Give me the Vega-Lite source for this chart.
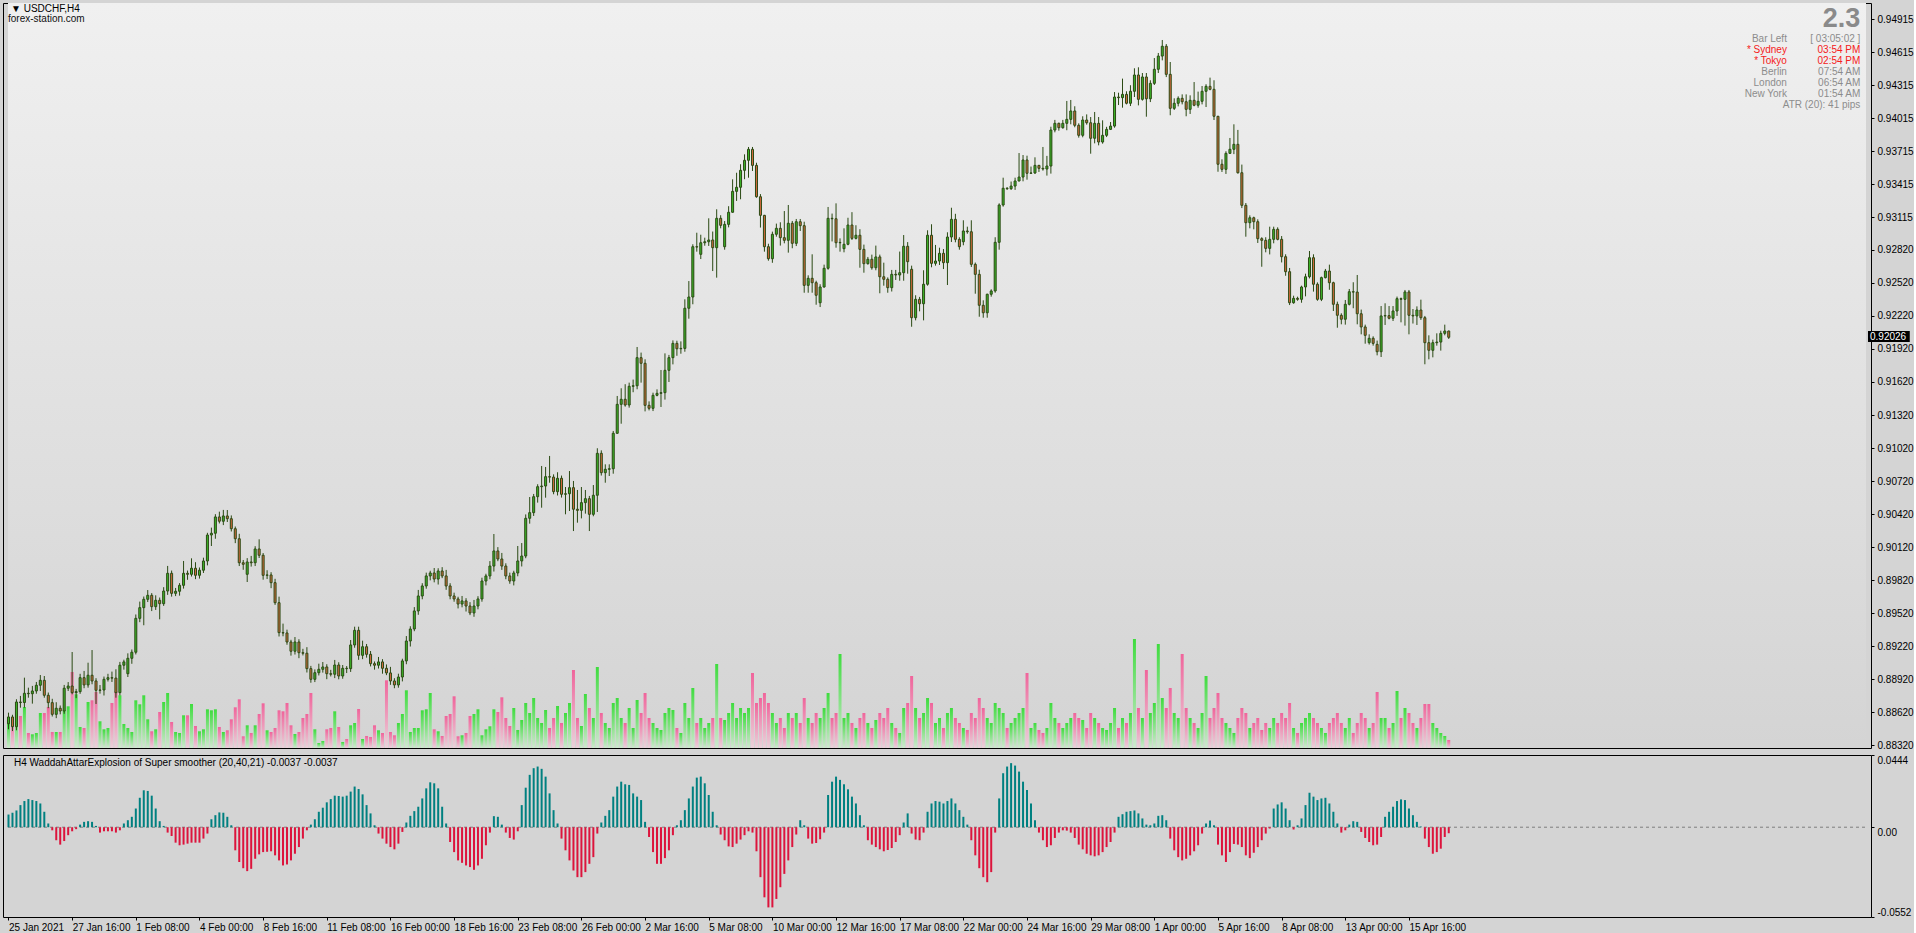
{
"$schema": "https://vega.github.io/schema/vega-lite/v6.json",
"background": "#D4D4D4",
"padding": {"left": 2, "top": 2, "right": 0, "bottom": 0},
"spacing": 3,
"datasets": {"bars": [
{"i":0,"o":0.88516,"h":0.88616,"l":0.88465,"c":0.88577,"v":2500,"w":0.0078},
{"i":1,"o":0.88577,"h":0.88597,"l":0.88449,"c":0.88489,"v":3000,"w":0.0089},
{"i":2,"o":0.88489,"h":0.88738,"l":0.88456,"c":0.88713,"v":3670,"w":0.0103},
{"i":3,"o":0.88713,"h":0.88768,"l":0.88661,"c":0.88708,"v":3200,"w":0.0136},
{"i":4,"o":0.88708,"h":0.88934,"l":0.88661,"c":0.88792,"v":4100,"w":0.0161},
{"i":5,"o":0.88792,"h":0.88843,"l":0.88752,"c":0.88788,"v":1500,"w":0.0173},
{"i":6,"o":0.88788,"h":0.88859,"l":0.88698,"c":0.88813,"v":1370,"w":0.0167},
{"i":7,"o":0.88813,"h":0.88895,"l":0.88788,"c":0.88865,"v":1500,"w":0.0161},
{"i":8,"o":0.88865,"h":0.88958,"l":0.88813,"c":0.8891,"v":3500,"w":0.0146},
{"i":9,"o":0.8891,"h":0.88949,"l":0.88752,"c":0.88774,"v":3500,"w":0.0095},
{"i":10,"o":0.88774,"h":0.88799,"l":0.88657,"c":0.88707,"v":4100,"w":0.0023},
{"i":11,"o":0.88707,"h":0.88742,"l":0.88581,"c":0.88601,"v":1600,"w":-0.0019},
{"i":12,"o":0.88601,"h":0.88711,"l":0.88566,"c":0.88656,"v":1600,"w":-0.008},
{"i":13,"o":0.88656,"h":0.88681,"l":0.88601,"c":0.88631,"v":1600,"w":-0.0107},
{"i":14,"o":0.88631,"h":0.88868,"l":0.88606,"c":0.88838,"v":3770,"w":-0.0085},
{"i":15,"o":0.88838,"h":0.88894,"l":0.88813,"c":0.88858,"v":4170,"w":-0.0049},
{"i":16,"o":0.88858,"h":0.89167,"l":0.88783,"c":0.88798,"v":7600,"w":-0.0025},
{"i":17,"o":0.88798,"h":0.88832,"l":0.88748,"c":0.88807,"v":5370,"w":-0.0012},
{"i":18,"o":0.88807,"h":0.88969,"l":0.88787,"c":0.88934,"v":2100,"w":0.0016},
{"i":19,"o":0.88934,"h":0.88995,"l":0.88838,"c":0.88868,"v":2000,"w":0.0033},
{"i":20,"o":0.88868,"h":0.8907,"l":0.88843,"c":0.88956,"v":4600,"w":0.0037},
{"i":21,"o":0.88956,"h":0.89185,"l":0.88874,"c":0.88904,"v":4770,"w":0.0033},
{"i":22,"o":0.88904,"h":0.88929,"l":0.88695,"c":0.88819,"v":5600,"w":0.0008},
{"i":23,"o":0.88819,"h":0.88867,"l":0.88789,"c":0.88822,"v":2670,"w":-0.0033},
{"i":24,"o":0.88822,"h":0.88944,"l":0.88772,"c":0.88919,"v":1870,"w":-0.0025},
{"i":25,"o":0.88919,"h":0.88969,"l":0.88899,"c":0.88934,"v":2000,"w":-0.0025},
{"i":26,"o":0.88934,"h":0.88989,"l":0.88895,"c":0.8893,"v":4500,"w":-0.0025},
{"i":27,"o":0.8893,"h":0.8901,"l":0.88752,"c":0.88798,"v":5670,"w":-0.0033},
{"i":28,"o":0.88798,"h":0.89077,"l":0.88773,"c":0.89047,"v":5270,"w":-0.0019},
{"i":29,"o":0.89047,"h":0.89097,"l":0.89007,"c":0.89077,"v":2400,"w":0.0023},
{"i":30,"o":0.8897,"h":0.89155,"l":0.8894,"c":0.8911,"v":2000,"w":0.0043},
{"i":31,"o":0.8911,"h":0.8919,"l":0.8906,"c":0.89165,"v":1600,"w":0.0064},
{"i":32,"o":0.89165,"h":0.89508,"l":0.89145,"c":0.89473,"v":4770,"w":0.0115},
{"i":33,"o":0.89473,"h":0.89625,"l":0.89438,"c":0.8957,"v":4370,"w":0.0181},
{"i":34,"o":0.8957,"h":0.89671,"l":0.8941,"c":0.89646,"v":5270,"w":0.0227},
{"i":35,"o":0.89646,"h":0.8973,"l":0.89621,"c":0.89682,"v":2870,"w":0.0223},
{"i":36,"o":0.89682,"h":0.89702,"l":0.89539,"c":0.89579,"v":1670,"w":0.0194},
{"i":37,"o":0.89579,"h":0.89682,"l":0.89549,"c":0.89637,"v":1870,"w":0.0115},
{"i":38,"o":0.89637,"h":0.89662,"l":0.89464,"c":0.89606,"v":3600,"w":0.0037},
{"i":39,"o":0.89606,"h":0.89756,"l":0.89586,"c":0.89721,"v":4600,"w":0.0008},
{"i":40,"o":0.89721,"h":0.89949,"l":0.89686,"c":0.89882,"v":5500,"w":-0.0033},
{"i":41,"o":0.89882,"h":0.89907,"l":0.8967,"c":0.897,"v":2600,"w":-0.0054},
{"i":42,"o":0.897,"h":0.89749,"l":0.89675,"c":0.89719,"v":1600,"w":-0.0095},
{"i":43,"o":0.89719,"h":0.89793,"l":0.89679,"c":0.89773,"v":1500,"w":-0.0111},
{"i":44,"o":0.89773,"h":0.89994,"l":0.89743,"c":0.89882,"v":3270,"w":-0.0107},
{"i":45,"o":0.89882,"h":0.89907,"l":0.89823,"c":0.89873,"v":3270,"w":-0.0101},
{"i":46,"o":0.89873,"h":0.90018,"l":0.89853,"c":0.89928,"v":4400,"w":-0.0095},
{"i":47,"o":0.89928,"h":0.89983,"l":0.89829,"c":0.89864,"v":2200,"w":-0.0095},
{"i":48,"o":0.89864,"h":0.89935,"l":0.89834,"c":0.8991,"v":1670,"w":-0.0095},
{"i":49,"o":0.8991,"h":0.90024,"l":0.89885,"c":0.89994,"v":1870,"w":-0.007},
{"i":50,"o":0.89994,"h":0.9025,"l":0.89954,"c":0.9023,"v":3870,"w":-0.0039},
{"i":51,"o":0.9023,"h":0.90297,"l":0.9013,"c":0.90246,"v":3770,"w":0.0049},
{"i":52,"o":0.90246,"h":0.90419,"l":0.90196,"c":0.90394,"v":3870,"w":0.0074},
{"i":53,"o":0.90394,"h":0.90442,"l":0.90335,"c":0.90355,"v":2100,"w":0.0091},
{"i":54,"o":0.90355,"h":0.90458,"l":0.9032,"c":0.90403,"v":1600,"w":0.0089},
{"i":55,"o":0.90403,"h":0.90457,"l":0.90348,"c":0.90378,"v":1770,"w":0.0064},
{"i":56,"o":0.90378,"h":0.90408,"l":0.90262,"c":0.90287,"v":2870,"w":0.0012},
{"i":57,"o":0.90287,"h":0.90307,"l":0.90156,"c":0.90196,"v":4070,"w":-0.0142},
{"i":58,"o":0.90196,"h":0.90241,"l":0.89948,"c":0.89978,"v":4870,"w":-0.0214},
{"i":59,"o":0.89978,"h":0.90003,"l":0.89914,"c":0.89964,"v":1170,"w":-0.0252},
{"i":60,"o":0.89873,"h":0.9002,"l":0.89803,"c":0.89985,"v":2270,"w":-0.027},
{"i":61,"o":0.89985,"h":0.9004,"l":0.89943,"c":0.89978,"v":1500,"w":-0.0256},
{"i":62,"o":0.89978,"h":0.90128,"l":0.89948,"c":0.90103,"v":2270,"w":-0.0194},
{"i":63,"o":0.90103,"h":0.90191,"l":0.90021,"c":0.90046,"v":3400,"w":-0.0167},
{"i":64,"o":0.90046,"h":0.90066,"l":0.89824,"c":0.89864,"v":4470,"w":-0.0153},
{"i":65,"o":0.89864,"h":0.8991,"l":0.8983,"c":0.89867,"v":1770,"w":-0.0151},
{"i":66,"o":0.89867,"h":0.89892,"l":0.89747,"c":0.89797,"v":1600,"w":-0.0148},
{"i":67,"o":0.89797,"h":0.89832,"l":0.89595,"c":0.89615,"v":2000,"w":-0.0173},
{"i":68,"o":0.89615,"h":0.8967,"l":0.89308,"c":0.89343,"v":3770,"w":-0.0204},
{"i":69,"o":0.89343,"h":0.89425,"l":0.8931,"c":0.8934,"v":3670,"w":-0.0235},
{"i":70,"o":0.8934,"h":0.8937,"l":0.89233,"c":0.89258,"v":4500,"w":-0.0229},
{"i":71,"o":0.89258,"h":0.89278,"l":0.89134,"c":0.89174,"v":2270,"w":-0.0204},
{"i":72,"o":0.89174,"h":0.89303,"l":0.89144,"c":0.89258,"v":1400,"w":-0.0163},
{"i":73,"o":0.89258,"h":0.89283,"l":0.89111,"c":0.89161,"v":1600,"w":-0.0122},
{"i":74,"o":0.89161,"h":0.89196,"l":0.89136,"c":0.89156,"v":3000,"w":-0.007},
{"i":75,"o":0.89156,"h":0.89211,"l":0.88981,"c":0.89016,"v":3400,"w":-0.0019},
{"i":76,"o":0.89016,"h":0.89041,"l":0.88888,"c":0.88919,"v":5500,"w":0.0016},
{"i":77,"o":0.88919,"h":0.89009,"l":0.88894,"c":0.88979,"v":1870,"w":0.0049},
{"i":78,"o":0.88979,"h":0.89061,"l":0.88954,"c":0.8901,"v":500,"w":0.0095},
{"i":79,"o":0.8901,"h":0.89076,"l":0.8898,"c":0.89031,"v":700,"w":0.012},
{"i":80,"o":0.89031,"h":0.89056,"l":0.8892,"c":0.8897,"v":1870,"w":0.0153},
{"i":81,"o":0.8897,"h":0.89005,"l":0.88945,"c":0.88965,"v":2000,"w":0.0173},
{"i":82,"o":0.88965,"h":0.89095,"l":0.8893,"c":0.89049,"v":3670,"w":0.0194},
{"i":83,"o":0.89049,"h":0.89074,"l":0.88919,"c":0.88949,"v":2100,"w":0.0192},
{"i":84,"o":0.88949,"h":0.89049,"l":0.88924,"c":0.89019,"v":600,"w":0.0188},
{"i":85,"o":0.89019,"h":0.89039,"l":0.88976,"c":0.89016,"v":900,"w":0.0194},
{"i":86,"o":0.89016,"h":0.89276,"l":0.88986,"c":0.89231,"v":2270,"w":0.0219},
{"i":87,"o":0.89231,"h":0.89397,"l":0.89206,"c":0.89364,"v":2500,"w":0.025},
{"i":88,"o":0.89364,"h":0.89397,"l":0.89096,"c":0.89137,"v":3900,"w":0.0235},
{"i":89,"o":0.89137,"h":0.8927,"l":0.89102,"c":0.89215,"v":900,"w":0.0202},
{"i":90,"o":0.89215,"h":0.8924,"l":0.89116,"c":0.89146,"v":1200,"w":0.0136},
{"i":91,"o":0.89146,"h":0.89176,"l":0.89036,"c":0.89061,"v":1100,"w":0.0085},
{"i":92,"o":0.89061,"h":0.89081,"l":0.89007,"c":0.89047,"v":2270,"w":0.0012},
{"i":93,"o":0.89047,"h":0.89122,"l":0.89017,"c":0.89077,"v":1770,"w":-0.0039},
{"i":94,"o":0.89077,"h":0.89102,"l":0.8897,"c":0.89019,"v":1500,"w":-0.007},
{"i":95,"o":0.89019,"h":0.89054,"l":0.88957,"c":0.88977,"v":6770,"w":-0.0101},
{"i":96,"o":0.88977,"h":0.89032,"l":0.88869,"c":0.88904,"v":1600,"w":-0.0122},
{"i":97,"o":0.88904,"h":0.88929,"l":0.88838,"c":0.88868,"v":1270,"w":-0.0136},
{"i":98,"o":0.88868,"h":0.8897,"l":0.88843,"c":0.8894,"v":2500,"w":-0.0101},
{"i":99,"o":0.8894,"h":0.89106,"l":0.889,"c":0.89086,"v":3400,"w":-0.0029},
{"i":100,"o":0.89086,"h":0.89312,"l":0.89056,"c":0.89267,"v":5770,"w":0.0029},
{"i":101,"o":0.89267,"h":0.89401,"l":0.89217,"c":0.89376,"v":1600,"w":0.007},
{"i":102,"o":0.89376,"h":0.89575,"l":0.89356,"c":0.8954,"v":2000,"w":0.0099},
{"i":103,"o":0.8954,"h":0.89731,"l":0.89505,"c":0.89676,"v":2000,"w":0.0126},
{"i":104,"o":0.89676,"h":0.89792,"l":0.89646,"c":0.89767,"v":3770,"w":0.0177},
{"i":105,"o":0.89767,"h":0.89888,"l":0.89742,"c":0.89858,"v":3870,"w":0.0239},
{"i":106,"o":0.89858,"h":0.89905,"l":0.89818,"c":0.89885,"v":5500,"w":0.0276},
{"i":107,"o":0.89885,"h":0.8993,"l":0.898,"c":0.8983,"v":1870,"w":0.027},
{"i":108,"o":0.8983,"h":0.89928,"l":0.8978,"c":0.89903,"v":1670,"w":0.0239},
{"i":109,"o":0.89903,"h":0.89938,"l":0.89838,"c":0.89858,"v":1200,"w":0.0126},
{"i":110,"o":0.89858,"h":0.89913,"l":0.89732,"c":0.89767,"v":3200,"w":0.0023},
{"i":111,"o":0.89767,"h":0.89792,"l":0.89646,"c":0.89676,"v":3400,"w":-0.0091},
{"i":112,"o":0.89676,"h":0.89706,"l":0.89624,"c":0.89649,"v":5170,"w":-0.0153},
{"i":113,"o":0.89649,"h":0.89669,"l":0.89563,"c":0.89603,"v":1170,"w":-0.0204},
{"i":114,"o":0.89603,"h":0.89676,"l":0.89573,"c":0.89631,"v":1270,"w":-0.0219},
{"i":115,"o":0.89631,"h":0.89656,"l":0.89535,"c":0.89585,"v":1500,"w":-0.0235},
{"i":116,"o":0.89585,"h":0.8962,"l":0.89502,"c":0.89522,"v":3200,"w":-0.0245},
{"i":117,"o":0.89522,"h":0.8964,"l":0.89487,"c":0.89585,"v":3400,"w":-0.0262},
{"i":118,"o":0.89585,"h":0.89674,"l":0.89555,"c":0.89649,"v":3870,"w":-0.0235},
{"i":119,"o":0.89649,"h":0.89842,"l":0.89624,"c":0.89812,"v":1270,"w":-0.0194},
{"i":120,"o":0.89812,"h":0.89878,"l":0.89772,"c":0.89858,"v":1870,"w":-0.0111},
{"i":121,"o":0.89858,"h":0.89993,"l":0.89828,"c":0.89948,"v":2170,"w":-0.0033},
{"i":122,"o":0.89948,"h":0.90239,"l":0.89898,"c":0.90085,"v":3870,"w":0.0068},
{"i":123,"o":0.90085,"h":0.9012,"l":0.89992,"c":0.90012,"v":3600,"w":0.0064},
{"i":124,"o":0.90012,"h":0.90067,"l":0.89913,"c":0.89948,"v":5070,"w":0.0016},
{"i":125,"o":0.89948,"h":0.89973,"l":0.89828,"c":0.89858,"v":3000,"w":-0.0033},
{"i":126,"o":0.89858,"h":0.89888,"l":0.89787,"c":0.89812,"v":2200,"w":-0.0066},
{"i":127,"o":0.89812,"h":0.89905,"l":0.89772,"c":0.89885,"v":4000,"w":-0.0076},
{"i":128,"o":0.89885,"h":0.9013,"l":0.89855,"c":0.89994,"v":1800,"w":-0.0025},
{"i":129,"o":0.89994,"h":0.90157,"l":0.89944,"c":0.90039,"v":2800,"w":0.0136},
{"i":130,"o":0.90039,"h":0.90417,"l":0.90019,"c":0.90382,"v":4500,"w":0.0243},
{"i":131,"o":0.90382,"h":0.90575,"l":0.90333,"c":0.90433,"v":3500,"w":0.0322},
{"i":132,"o":0.90433,"h":0.90603,"l":0.90403,"c":0.90578,"v":5000,"w":0.0363},
{"i":133,"o":0.90578,"h":0.90691,"l":0.90524,"c":0.90669,"v":3000,"w":0.0373},
{"i":134,"o":0.90669,"h":0.90857,"l":0.90478,"c":0.90675,"v":2500,"w":0.0359},
{"i":135,"o":0.90675,"h":0.90848,"l":0.90569,"c":0.9076,"v":3800,"w":0.0311},
{"i":136,"o":0.9076,"h":0.90948,"l":0.90705,"c":0.90756,"v":2000,"w":0.0208},
{"i":137,"o":0.90756,"h":0.90781,"l":0.906,"c":0.90624,"v":3000,"w":0.0105},
{"i":138,"o":0.90624,"h":0.908,"l":0.90589,"c":0.90745,"v":4200,"w":0.0023},
{"i":139,"o":0.90745,"h":0.9077,"l":0.9057,"c":0.906,"v":2500,"w":-0.007},
{"i":140,"o":0.906,"h":0.90666,"l":0.90418,"c":0.90605,"v":3500,"w":-0.0142},
{"i":141,"o":0.90605,"h":0.90811,"l":0.90448,"c":0.9066,"v":4500,"w":-0.0204},
{"i":142,"o":0.9066,"h":0.90721,"l":0.90266,"c":0.90464,"v":7800,"w":-0.0266},
{"i":143,"o":0.90464,"h":0.90639,"l":0.90342,"c":0.90454,"v":3000,"w":-0.0307},
{"i":144,"o":0.90454,"h":0.90666,"l":0.90381,"c":0.90524,"v":2200,"w":-0.0307},
{"i":145,"o":0.90524,"h":0.90639,"l":0.90424,"c":0.9056,"v":5400,"w":-0.0276},
{"i":146,"o":0.9056,"h":0.90585,"l":0.90266,"c":0.90418,"v":4000,"w":-0.0225},
{"i":147,"o":0.90418,"h":0.90684,"l":0.904,"c":0.90591,"v":3000,"w":-0.0184},
{"i":148,"o":0.90591,"h":0.91018,"l":0.90439,"c":0.90972,"v":8100,"w":-0.0039},
{"i":149,"o":0.90972,"h":0.90999,"l":0.9077,"c":0.90796,"v":3500,"w":0.0029},
{"i":150,"o":0.90796,"h":0.90872,"l":0.90705,"c":0.90827,"v":2500,"w":0.007},
{"i":151,"o":0.90827,"h":0.90872,"l":0.90766,"c":0.90832,"v":2000,"w":0.0105},
{"i":152,"o":0.90832,"h":0.91175,"l":0.90787,"c":0.91154,"v":4500,"w":0.0188},
{"i":153,"o":0.91154,"h":0.91493,"l":0.9115,"c":0.91417,"v":5000,"w":0.025},
{"i":154,"o":0.91417,"h":0.91563,"l":0.91241,"c":0.91463,"v":3000,"w":0.028},
{"i":155,"o":0.91463,"h":0.916,"l":0.91396,"c":0.91411,"v":2500,"w":0.0264},
{"i":156,"o":0.91411,"h":0.91614,"l":0.91387,"c":0.91581,"v":4000,"w":0.026},
{"i":157,"o":0.91581,"h":0.91642,"l":0.91527,"c":0.91586,"v":2000,"w":0.0208},
{"i":158,"o":0.91586,"h":0.91938,"l":0.91554,"c":0.91841,"v":4800,"w":0.0188},
{"i":159,"o":0.91841,"h":0.91887,"l":0.91614,"c":0.9179,"v":3500,"w":0.0167},
{"i":160,"o":0.9179,"h":0.91826,"l":0.91353,"c":0.91408,"v":5500,"w":0.0033},
{"i":161,"o":0.91408,"h":0.91444,"l":0.91362,"c":0.91381,"v":3000,"w":-0.006},
{"i":162,"o":0.91381,"h":0.91523,"l":0.91356,"c":0.91499,"v":2500,"w":-0.0153},
{"i":163,"o":0.91499,"h":0.91553,"l":0.9149,"c":0.91517,"v":2000,"w":-0.0225},
{"i":164,"o":0.91517,"h":0.91729,"l":0.91393,"c":0.91523,"v":1800,"w":-0.0225},
{"i":165,"o":0.91523,"h":0.9188,"l":0.9146,"c":0.91726,"v":3500,"w":-0.019},
{"i":166,"o":0.91726,"h":0.91866,"l":0.9162,"c":0.91841,"v":4000,"w":-0.0142},
{"i":167,"o":0.91841,"h":0.91998,"l":0.9178,"c":0.91971,"v":3800,"w":-0.0049},
{"i":168,"o":0.91971,"h":0.91995,"l":0.91858,"c":0.91922,"v":2000,"w":0.0012},
{"i":169,"o":0.91922,"h":0.91989,"l":0.91877,"c":0.91925,"v":1500,"w":0.0043},
{"i":170,"o":0.91925,"h":0.92371,"l":0.91895,"c":0.9229,"v":4500,"w":0.0105},
{"i":171,"o":0.9229,"h":0.92537,"l":0.92195,"c":0.92392,"v":3000,"w":0.0177},
{"i":172,"o":0.92392,"h":0.92871,"l":0.92326,"c":0.92849,"v":6000,"w":0.025},
{"i":173,"o":0.92849,"h":0.92976,"l":0.92804,"c":0.92846,"v":2500,"w":0.0305},
{"i":174,"o":0.9278,"h":0.92958,"l":0.92737,"c":0.92885,"v":3000,"w":0.0311},
{"i":175,"o":0.92885,"h":0.92931,"l":0.92858,"c":0.92894,"v":2000,"w":0.027},
{"i":176,"o":0.92894,"h":0.93107,"l":0.92856,"c":0.9291,"v":2500,"w":0.0198},
{"i":177,"o":0.9291,"h":0.92987,"l":0.92628,"c":0.9284,"v":3000,"w":0.0095},
{"i":178,"o":0.9284,"h":0.93189,"l":0.92568,"c":0.93107,"v":8400,"w":0.0012},
{"i":179,"o":0.93107,"h":0.93135,"l":0.93016,"c":0.93043,"v":3000,"w":-0.0045},
{"i":180,"o":0.92849,"h":0.93082,"l":0.92822,"c":0.93052,"v":2800,"w":-0.008},
{"i":181,"o":0.93052,"h":0.93217,"l":0.93025,"c":0.93162,"v":3500,"w":-0.0118},
{"i":182,"o":0.93162,"h":0.93461,"l":0.93158,"c":0.93352,"v":4500,"w":-0.0122},
{"i":183,"o":0.93352,"h":0.93521,"l":0.93265,"c":0.93389,"v":3000,"w":-0.0101},
{"i":184,"o":0.93389,"h":0.93598,"l":0.9328,"c":0.93543,"v":4000,"w":-0.0076},
{"i":185,"o":0.93543,"h":0.93688,"l":0.93462,"c":0.93634,"v":3500,"w":-0.0049},
{"i":186,"o":0.93634,"h":0.93755,"l":0.93476,"c":0.93734,"v":4000,"w":-0.0025},
{"i":187,"o":0.93734,"h":0.93755,"l":0.93537,"c":0.93588,"v":7500,"w":-0.0033},
{"i":188,"o":0.93588,"h":0.93612,"l":0.93294,"c":0.93303,"v":4500,"w":-0.0148},
{"i":189,"o":0.93303,"h":0.93327,"l":0.93023,"c":0.93134,"v":5000,"w":-0.0307},
{"i":190,"o":0.93134,"h":0.93138,"l":0.92804,"c":0.92849,"v":5500,"w":-0.0431},
{"i":191,"o":0.92849,"h":0.92876,"l":0.92722,"c":0.9274,"v":4500,"w":-0.0493},
{"i":192,"o":0.9274,"h":0.92986,"l":0.92703,"c":0.92962,"v":3500,"w":-0.0493},
{"i":193,"o":0.92962,"h":0.93059,"l":0.9294,"c":0.93016,"v":2500,"w":-0.0441},
{"i":194,"o":0.93016,"h":0.93071,"l":0.92859,"c":0.92931,"v":3000,"w":-0.0369},
{"i":195,"o":0.92931,"h":0.93173,"l":0.9288,"c":0.92907,"v":2000,"w":-0.0287},
{"i":196,"o":0.92907,"h":0.93228,"l":0.92795,"c":0.93062,"v":3500,"w":-0.0204},
{"i":197,"o":0.93062,"h":0.93083,"l":0.92835,"c":0.9288,"v":3000,"w":-0.0122},
{"i":198,"o":0.9288,"h":0.93101,"l":0.92855,"c":0.93076,"v":3500,"w":-0.0045},
{"i":199,"o":0.93076,"h":0.93101,"l":0.92992,"c":0.9304,"v":2500,"w":0.0043},
{"i":200,"o":0.9304,"h":0.93076,"l":0.92431,"c":0.92498,"v":5000,"w":0.0012},
{"i":201,"o":0.92498,"h":0.92589,"l":0.92431,"c":0.92562,"v":3000,"w":-0.007},
{"i":202,"o":0.92562,"h":0.9278,"l":0.92431,"c":0.92522,"v":2500,"w":-0.0101},
{"i":203,"o":0.92522,"h":0.9254,"l":0.92322,"c":0.92408,"v":3500,"w":-0.0097},
{"i":204,"o":0.9234,"h":0.92508,"l":0.92301,"c":0.92483,"v":3000,"w":-0.0074},
{"i":205,"o":0.92483,"h":0.92686,"l":0.92477,"c":0.92653,"v":4000,"w":-0.0033},
{"i":206,"o":0.92653,"h":0.9321,"l":0.9264,"c":0.93107,"v":5500,"w":0.0198},
{"i":207,"o":0.93107,"h":0.9315,"l":0.92897,"c":0.93103,"v":3000,"w":0.028},
{"i":208,"o":0.93103,"h":0.93243,"l":0.9284,"c":0.92885,"v":3500,"w":0.0311},
{"i":209,"o":0.92885,"h":0.92925,"l":0.92804,"c":0.92888,"v":9400,"w":0.0291},
{"i":210,"o":0.92831,"h":0.93016,"l":0.92798,"c":0.92871,"v":3000,"w":0.0264},
{"i":211,"o":0.92871,"h":0.93112,"l":0.92862,"c":0.93046,"v":3500,"w":0.0233},
{"i":212,"o":0.93046,"h":0.93163,"l":0.9291,"c":0.92925,"v":2500,"w":0.0188},
{"i":213,"o":0.92925,"h":0.93044,"l":0.92915,"c":0.92953,"v":2000,"w":0.0146},
{"i":214,"o":0.92953,"h":0.93008,"l":0.92658,"c":0.92825,"v":3000,"w":0.0074},
{"i":215,"o":0.92825,"h":0.92868,"l":0.92613,"c":0.92695,"v":3500,"w":0.0012},
{"i":216,"o":0.92695,"h":0.92756,"l":0.92686,"c":0.92735,"v":2500,"w":-0.008},
{"i":217,"o":0.92735,"h":0.92777,"l":0.9264,"c":0.92658,"v":2000,"w":-0.0107},
{"i":218,"o":0.92658,"h":0.92859,"l":0.92635,"c":0.92756,"v":2800,"w":-0.0122},
{"i":219,"o":0.92756,"h":0.92777,"l":0.92426,"c":0.92576,"v":3500,"w":-0.0136},
{"i":220,"o":0.92576,"h":0.92704,"l":0.92495,"c":0.92553,"v":3000,"w":-0.0148},
{"i":221,"o":0.92553,"h":0.9257,"l":0.92431,"c":0.92477,"v":4000,"w":-0.014},
{"i":222,"o":0.92477,"h":0.92638,"l":0.92442,"c":0.92598,"v":2500,"w":-0.0128},
{"i":223,"o":0.92598,"h":0.92638,"l":0.92547,"c":0.92592,"v":2000,"w":-0.0091},
{"i":224,"o":0.92592,"h":0.92805,"l":0.9254,"c":0.92613,"v":1500,"w":-0.0049},
{"i":225,"o":0.92613,"h":0.92955,"l":0.9254,"c":0.92853,"v":4000,"w":0.0029},
{"i":226,"o":0.92853,"h":0.92891,"l":0.92604,"c":0.92713,"v":4500,"w":0.0085},
{"i":227,"o":0.92644,"h":0.92677,"l":0.92122,"c":0.92204,"v":7200,"w":-0.0039},
{"i":228,"o":0.92204,"h":0.92408,"l":0.9218,"c":0.92371,"v":4000,"w":-0.0076},
{"i":229,"o":0.92371,"h":0.92393,"l":0.92262,"c":0.92331,"v":3000,"w":-0.008},
{"i":230,"o":0.92331,"h":0.92635,"l":0.9218,"c":0.92508,"v":3500,"w":-0.0033},
{"i":231,"o":0.92508,"h":0.92998,"l":0.92495,"c":0.92953,"v":5000,"w":0.0095},
{"i":232,"o":0.92953,"h":0.93053,"l":0.92662,"c":0.92698,"v":4500,"w":0.0146},
{"i":233,"o":0.92698,"h":0.92865,"l":0.92677,"c":0.92719,"v":2500,"w":0.0161},
{"i":234,"o":0.92719,"h":0.9284,"l":0.92683,"c":0.92789,"v":3000,"w":0.0157},
{"i":235,"o":0.92789,"h":0.92828,"l":0.92646,"c":0.92704,"v":2000,"w":0.0146},
{"i":236,"o":0.92704,"h":0.9298,"l":0.92501,"c":0.92937,"v":3500,"w":0.0161},
{"i":237,"o":0.92937,"h":0.93203,"l":0.92892,"c":0.93098,"v":4000,"w":0.0177},
{"i":238,"o":0.93098,"h":0.93148,"l":0.92889,"c":0.92916,"v":3000,"w":0.0146},
{"i":239,"o":0.92916,"h":0.92935,"l":0.92822,"c":0.92849,"v":2500,"w":0.0105},
{"i":240,"o":0.92894,"h":0.93089,"l":0.92862,"c":0.92992,"v":2000,"w":0.0064},
{"i":241,"o":0.92992,"h":0.93031,"l":0.92967,"c":0.92985,"v":1800,"w":0.0016},
{"i":242,"o":0.92985,"h":0.93089,"l":0.92665,"c":0.92689,"v":3500,"w":-0.008},
{"i":243,"o":0.92689,"h":0.92705,"l":0.92422,"c":0.92598,"v":3000,"w":-0.0173},
{"i":244,"o":0.92598,"h":0.9264,"l":0.92213,"c":0.92317,"v":5000,"w":-0.0252},
{"i":245,"o":0.92317,"h":0.92362,"l":0.92204,"c":0.92249,"v":4000,"w":-0.0307},
{"i":246,"o":0.92249,"h":0.92422,"l":0.92204,"c":0.92417,"v":3000,"w":-0.0338},
{"i":247,"o":0.92417,"h":0.92462,"l":0.92395,"c":0.92447,"v":2500,"w":-0.0276},
{"i":248,"o":0.92447,"h":0.92935,"l":0.92431,"c":0.92889,"v":4500,"w":-0.0033},
{"i":249,"o":0.92889,"h":0.93243,"l":0.92822,"c":0.93228,"v":4000,"w":0.0177},
{"i":250,"o":0.93228,"h":0.93476,"l":0.93213,"c":0.9338,"v":3500,"w":0.0332},
{"i":251,"o":0.9338,"h":0.9339,"l":0.93365,"c":0.93376,"v":2000,"w":0.0373},
{"i":252,"o":0.93376,"h":0.93441,"l":0.93365,"c":0.934,"v":2500,"w":0.0394},
{"i":253,"o":0.934,"h":0.93476,"l":0.93365,"c":0.93446,"v":3000,"w":0.0379},
{"i":254,"o":0.93446,"h":0.937,"l":0.93443,"c":0.93482,"v":3500,"w":0.0342},
{"i":255,"o":0.93482,"h":0.93682,"l":0.93443,"c":0.93637,"v":4000,"w":0.028},
{"i":256,"o":0.93637,"h":0.93676,"l":0.93458,"c":0.93516,"v":7500,"w":0.0229},
{"i":257,"o":0.93516,"h":0.93577,"l":0.9351,"c":0.93519,"v":2000,"w":0.0146},
{"i":258,"o":0.93519,"h":0.93661,"l":0.9351,"c":0.93588,"v":2500,"w":0.0043},
{"i":259,"o":0.93588,"h":0.93592,"l":0.93528,"c":0.93561,"v":1800,"w":-0.0033},
{"i":260,"o":0.93561,"h":0.93755,"l":0.9354,"c":0.93555,"v":1500,"w":-0.008},
{"i":261,"o":0.93555,"h":0.93674,"l":0.93495,"c":0.93582,"v":2000,"w":-0.0122},
{"i":262,"o":0.93582,"h":0.93939,"l":0.93513,"c":0.93909,"v":4500,"w":-0.0111},
{"i":263,"o":0.93909,"h":0.94001,"l":0.93888,"c":0.9397,"v":3000,"w":-0.0066},
{"i":264,"o":0.9397,"h":0.93976,"l":0.93903,"c":0.9393,"v":2500,"w":-0.0033},
{"i":265,"o":0.9393,"h":0.94001,"l":0.93921,"c":0.9397,"v":2000,"w":-0.0019},
{"i":266,"o":0.9397,"h":0.94173,"l":0.93907,"c":0.94006,"v":2500,"w":-0.0021},
{"i":267,"o":0.94006,"h":0.94182,"l":0.93961,"c":0.94082,"v":3000,"w":-0.0033},
{"i":268,"o":0.94082,"h":0.94125,"l":0.93934,"c":0.93952,"v":3500,"w":-0.0066},
{"i":269,"o":0.93952,"h":0.9397,"l":0.9384,"c":0.93861,"v":3000,"w":-0.0107},
{"i":270,"o":0.93861,"h":0.94034,"l":0.93843,"c":0.94,"v":2800,"w":-0.0136},
{"i":271,"o":0.94,"h":0.94051,"l":0.93958,"c":0.93975,"v":2000,"w":-0.0163},
{"i":272,"o":0.93975,"h":0.94027,"l":0.93694,"c":0.93834,"v":3500,"w":-0.0173},
{"i":273,"o":0.93834,"h":0.94073,"l":0.93788,"c":0.9397,"v":3000,"w":-0.0179},
{"i":274,"o":0.9397,"h":0.94027,"l":0.9377,"c":0.938,"v":2500,"w":-0.0173},
{"i":275,"o":0.938,"h":0.93997,"l":0.93785,"c":0.93861,"v":2000,"w":-0.0153},
{"i":276,"o":0.93861,"h":0.93938,"l":0.93845,"c":0.93915,"v":1800,"w":-0.0122},
{"i":277,"o":0.93915,"h":0.93982,"l":0.93909,"c":0.93945,"v":2500,"w":-0.0091},
{"i":278,"o":0.93945,"h":0.94254,"l":0.9393,"c":0.94209,"v":4000,"w":-0.0033},
{"i":279,"o":0.94209,"h":0.94248,"l":0.94136,"c":0.94203,"v":2000,"w":0.0064},
{"i":280,"o":0.94203,"h":0.94376,"l":0.94112,"c":0.94233,"v":3000,"w":0.008},
{"i":281,"o":0.94233,"h":0.94261,"l":0.94142,"c":0.94152,"v":2500,"w":0.0095},
{"i":282,"o":0.94152,"h":0.94316,"l":0.94127,"c":0.94261,"v":3500,"w":0.0099},
{"i":283,"o":0.94261,"h":0.9447,"l":0.94209,"c":0.94409,"v":10900,"w":0.0103},
{"i":284,"o":0.94409,"h":0.94479,"l":0.94133,"c":0.94188,"v":4000,"w":0.0085},
{"i":285,"o":0.94188,"h":0.94427,"l":0.94176,"c":0.94391,"v":3000,"w":0.0054},
{"i":286,"o":0.94391,"h":0.94427,"l":0.9403,"c":0.94193,"v":7800,"w":0.0016},
{"i":287,"o":0.94193,"h":0.94361,"l":0.94163,"c":0.94333,"v":3500,"w":0.0012},
{"i":288,"o":0.94333,"h":0.94563,"l":0.94318,"c":0.94461,"v":4500,"w":0.0023},
{"i":289,"o":0.94461,"h":0.94609,"l":0.94427,"c":0.94581,"v":10400,"w":0.007},
{"i":290,"o":0.94581,"h":0.94727,"l":0.94542,"c":0.9467,"v":5000,"w":0.0074},
{"i":291,"o":0.9467,"h":0.9469,"l":0.9439,"c":0.94415,"v":4000,"w":0.0043},
{"i":292,"o":0.94415,"h":0.94527,"l":0.94043,"c":0.94106,"v":6000,"w":-0.007},
{"i":293,"o":0.94106,"h":0.94197,"l":0.94091,"c":0.94152,"v":3500,"w":-0.0142},
{"i":294,"o":0.94152,"h":0.94215,"l":0.94124,"c":0.94197,"v":3000,"w":-0.0184},
{"i":295,"o":0.94197,"h":0.94233,"l":0.94142,"c":0.94166,"v":9400,"w":-0.0204},
{"i":296,"o":0.94166,"h":0.94233,"l":0.94034,"c":0.94097,"v":4000,"w":-0.0194},
{"i":297,"o":0.94097,"h":0.94224,"l":0.94055,"c":0.94179,"v":3000,"w":-0.0173},
{"i":298,"o":0.94179,"h":0.94345,"l":0.94125,"c":0.94134,"v":2500,"w":-0.0148},
{"i":299,"o":0.94134,"h":0.94258,"l":0.94112,"c":0.9417,"v":2000,"w":-0.0111},
{"i":300,"o":0.9417,"h":0.94309,"l":0.94142,"c":0.94261,"v":3500,"w":-0.0039},
{"i":301,"o":0.94261,"h":0.94325,"l":0.94118,"c":0.94306,"v":7200,"w":0.0023},
{"i":302,"o":0.94306,"h":0.94385,"l":0.9427,"c":0.94279,"v":3000,"w":0.0041},
{"i":303,"o":0.94279,"h":0.94361,"l":0.94,"c":0.94034,"v":4000,"w":0.0012},
{"i":304,"o":0.94034,"h":0.94037,"l":0.9353,"c":0.93598,"v":5500,"w":-0.0107},
{"i":305,"o":0.93598,"h":0.93643,"l":0.93528,"c":0.93552,"v":3000,"w":-0.0173},
{"i":306,"o":0.93552,"h":0.93716,"l":0.9351,"c":0.93697,"v":2500,"w":-0.0214},
{"i":307,"o":0.93697,"h":0.93837,"l":0.93694,"c":0.93734,"v":2000,"w":-0.0153},
{"i":308,"o":0.93734,"h":0.93961,"l":0.9369,"c":0.93779,"v":1500,"w":-0.0103},
{"i":309,"o":0.93779,"h":0.9391,"l":0.93513,"c":0.93521,"v":3000,"w":-0.0107},
{"i":310,"o":0.93521,"h":0.93595,"l":0.932,"c":0.93225,"v":4000,"w":-0.0122},
{"i":311,"o":0.93225,"h":0.93246,"l":0.9294,"c":0.93067,"v":3500,"w":-0.0173},
{"i":312,"o":0.93067,"h":0.93134,"l":0.93016,"c":0.93112,"v":2000,"w":-0.019},
{"i":313,"o":0.93112,"h":0.93122,"l":0.93007,"c":0.93076,"v":2500,"w":-0.0157},
{"i":314,"o":0.93076,"h":0.93098,"l":0.92883,"c":0.92922,"v":3000,"w":-0.0122},
{"i":315,"o":0.92922,"h":0.92935,"l":0.92667,"c":0.92907,"v":1800,"w":-0.008},
{"i":316,"o":0.92907,"h":0.92935,"l":0.92798,"c":0.92834,"v":2500,"w":-0.0039},
{"i":317,"o":0.92834,"h":0.93031,"l":0.92779,"c":0.92916,"v":2000,"w":-0.0008},
{"i":318,"o":0.92916,"h":0.93031,"l":0.9288,"c":0.93007,"v":3000,"w":0.0115},
{"i":319,"o":0.93007,"h":0.93025,"l":0.92907,"c":0.92916,"v":2500,"w":0.014},
{"i":320,"o":0.92916,"h":0.92946,"l":0.92706,"c":0.92758,"v":3500,"w":0.0153},
{"i":321,"o":0.92758,"h":0.9278,"l":0.92585,"c":0.92622,"v":3000,"w":0.0115},
{"i":322,"o":0.92622,"h":0.92656,"l":0.92319,"c":0.9234,"v":4500,"w":0.0043},
{"i":323,"o":0.9234,"h":0.92404,"l":0.92331,"c":0.9238,"v":2000,"w":-0.0014},
{"i":324,"o":0.9238,"h":0.92395,"l":0.92358,"c":0.92371,"v":1500,"w":0.0012},
{"i":325,"o":0.92371,"h":0.92495,"l":0.9234,"c":0.92483,"v":2500,"w":0.0054},
{"i":326,"o":0.92483,"h":0.92604,"l":0.92398,"c":0.92576,"v":3000,"w":0.0136},
{"i":327,"o":0.92576,"h":0.9281,"l":0.92561,"c":0.92749,"v":3500,"w":0.0212},
{"i":328,"o":0.92749,"h":0.9278,"l":0.92441,"c":0.92508,"v":3000,"w":0.0188},
{"i":329,"o":0.92508,"h":0.92525,"l":0.92358,"c":0.92371,"v":2500,"w":0.0167},
{"i":330,"o":0.92371,"h":0.92577,"l":0.92355,"c":0.92568,"v":2000,"w":0.0177},
{"i":331,"o":0.92568,"h":0.92647,"l":0.92561,"c":0.92628,"v":1500,"w":0.0181},
{"i":332,"o":0.92628,"h":0.92686,"l":0.92458,"c":0.92522,"v":2500,"w":0.0146},
{"i":333,"o":0.92522,"h":0.92531,"l":0.92265,"c":0.92326,"v":3000,"w":0.0095},
{"i":334,"o":0.92326,"h":0.9235,"l":0.92113,"c":0.92226,"v":3500,"w":0.0023},
{"i":335,"o":0.92226,"h":0.92244,"l":0.92144,"c":0.9219,"v":2500,"w":-0.0033},
{"i":336,"o":0.9219,"h":0.92365,"l":0.92141,"c":0.92326,"v":2000,"w":-0.0019},
{"i":337,"o":0.92326,"h":0.92465,"l":0.92316,"c":0.9244,"v":3000,"w":0.0016},
{"i":338,"o":0.9244,"h":0.92526,"l":0.9229,"c":0.92437,"v":1500,"w":0.0037},
{"i":339,"o":0.92437,"h":0.92592,"l":0.92144,"c":0.9224,"v":2500,"w":0.0033},
{"i":340,"o":0.9224,"h":0.92278,"l":0.92053,"c":0.9212,"v":3500,"w":-0.0029},
{"i":341,"o":0.9212,"h":0.92141,"l":0.91968,"c":0.92044,"v":3000,"w":-0.0066},
{"i":342,"o":0.91977,"h":0.92053,"l":0.9196,"c":0.92017,"v":2000,"w":-0.0091},
{"i":343,"o":0.92017,"h":0.92035,"l":0.9195,"c":0.91971,"v":2500,"w":-0.0111},
{"i":344,"o":0.91962,"h":0.91996,"l":0.91862,"c":0.91895,"v":5600,"w":-0.0107},
{"i":345,"o":0.91895,"h":0.9231,"l":0.91847,"c":0.9222,"v":3000,"w":-0.006},
{"i":346,"o":0.9222,"h":0.92335,"l":0.92138,"c":0.92223,"v":3000,"w":0.0064},
{"i":347,"o":0.92223,"h":0.9231,"l":0.92189,"c":0.92199,"v":2000,"w":0.0095},
{"i":348,"o":0.92199,"h":0.9231,"l":0.92174,"c":0.92265,"v":2500,"w":0.0126},
{"i":349,"o":0.92265,"h":0.92396,"l":0.9222,"c":0.92377,"v":5700,"w":0.0161},
{"i":350,"o":0.92377,"h":0.92387,"l":0.92162,"c":0.92371,"v":3000,"w":0.0171},
{"i":351,"o":0.92371,"h":0.92456,"l":0.92132,"c":0.92438,"v":4000,"w":0.0167},
{"i":352,"o":0.92438,"h":0.92456,"l":0.92053,"c":0.92226,"v":3500,"w":0.0115},
{"i":353,"o":0.92226,"h":0.92283,"l":0.92151,"c":0.9222,"v":2500,"w":0.0074},
{"i":354,"o":0.9222,"h":0.92307,"l":0.92138,"c":0.92274,"v":2000,"w":0.0033},
{"i":355,"o":0.92274,"h":0.92368,"l":0.92184,"c":0.92204,"v":3000,"w":0.0004},
{"i":356,"o":0.92204,"h":0.9222,"l":0.91781,"c":0.91977,"v":4400,"w":-0.007},
{"i":357,"o":0.91977,"h":0.92044,"l":0.91826,"c":0.91908,"v":4400,"w":-0.0122},
{"i":358,"o":0.91908,"h":0.92005,"l":0.91844,"c":0.91977,"v":2500,"w":-0.0163},
{"i":359,"o":0.91977,"h":0.92062,"l":0.9195,"c":0.91983,"v":2000,"w":-0.0153},
{"i":360,"o":0.91983,"h":0.92086,"l":0.91905,"c":0.92062,"v":1500,"w":-0.0132},
{"i":361,"o":0.92062,"h":0.92141,"l":0.92044,"c":0.92083,"v":1200,"w":-0.006},
{"i":362,"o":0.92083,"h":0.92086,"l":0.92011,"c":0.92026,"v":800,"w":-0.0037}
]},
"config": {
  "view": {"stroke": "#000000", "strokeWidth": 1},
  "axis": {"grid": false, "title": null, "domain": false, "labelFont": "Liberation Sans", "labelFontSize": 10, "labelColor": "#000000", "tickColor": "#000000", "tickSize": 3, "labelPadding": 3, "labelOverlap": false, "labelSeparation": 0},
  "text": {"font": "Liberation Sans"}
},
"vconcat": [
{
  "width": 1868, "height": 745,
  "layer": [
    {"layer": [
      {"data": {"values": [{}]},
       "mark": {"type": "rect", "fill": {"gradient": "linear", "x1": 0, "y1": 0, "x2": 0, "y2": 1, "stops": [{"offset": 0, "color": "#F0F0F0"}, {"offset": 1, "color": "#D4D4D4"}]}},
       "encoding": {
         "x": {"datum": -0.125, "type": "quantitative", "scale": {"domain": [-0.125, 466.875], "nice": false, "zero": false}, "axis": null},
         "x2": {"datum": 466.875},
         "y": {"datum": 0, "type": "quantitative", "scale": {"domain": [0, 74500], "nice": false}, "axis": null},
         "y2": {"datum": 74500}}},
      {"data": {"name": "bars"},
       "transform": [{"filter": "datum.c >= datum.o"}],
       "mark": {"type": "bar", "size": 3, "fill": {"gradient": "linear", "x1": 0, "y1": 0, "x2": 0, "y2": 1, "stops": [{"offset": 0, "color": "#3EDC3E"}, {"offset": 1, "color": "#CFE8CF"}]}},
       "encoding": {
         "x": {"field": "i", "type": "quantitative", "scale": {"domain": [-0.125, 466.875], "nice": false, "zero": false}, "axis": null},
         "y": {"field": "v", "type": "quantitative", "scale": {"domain": [0, 74500], "nice": false}, "axis": null}}},
      {"data": {"name": "bars"},
       "transform": [{"filter": "datum.c < datum.o"}],
       "mark": {"type": "bar", "size": 3, "fill": {"gradient": "linear", "x1": 0, "y1": 0, "x2": 0, "y2": 1, "stops": [{"offset": 0, "color": "#F0649B"}, {"offset": 1, "color": "#EAD2DA"}]}},
       "encoding": {
         "x": {"field": "i", "type": "quantitative", "scale": {"domain": [-0.125, 466.875], "nice": false, "zero": false}, "axis": null},
         "y": {"field": "v", "type": "quantitative", "scale": {"domain": [0, 74500], "nice": false}, "axis": null}}}
    ]},
    {"layer": [
      {"data": {"name": "bars"},
       "mark": {"type": "rule", "color": "#2B4A14", "strokeWidth": 1},
       "encoding": {
         "x": {"field": "i", "type": "quantitative", "scale": {"domain": [-0.125, 466.875], "nice": false, "zero": false}, "axis": null},
         "y": {"field": "l", "type": "quantitative", "scale": {"domain": [0.88295, 0.95063], "nice": false, "zero": false}, "axis": null},
         "y2": {"field": "h"}}},
      {"data": {"name": "bars"},
       "mark": {"type": "bar", "size": 2, "stroke": "#2B4A14", "strokeWidth": 1},
       "encoding": {
         "x": {"field": "i", "type": "quantitative", "scale": {"domain": [-0.125, 466.875], "nice": false, "zero": false}, "axis": null},
         "y": {"field": "o", "type": "quantitative", "scale": {"domain": [0.88295, 0.95063], "nice": false, "zero": false}, "axis": null},
         "y2": {"field": "c"},
         "fill": {"condition": {"test": "datum.c >= datum.o", "value": "#3CB428"}, "value": "#D2693C"}}},
      {"data": {"values": [{}]},
       "mark": {"type": "rect", "fill": "#000000"},
       "encoding": {
         "x": {"datum": 467.375, "type": "quantitative", "scale": {"domain": [-0.125, 466.875], "nice": false, "zero": false}, "axis": null},
         "x2": {"datum": 477.875},
         "y": {"datum": 0.91983, "type": "quantitative", "scale": {"domain": [0.88295, 0.95063], "nice": false, "zero": false}, "axis": null},
         "y2": {"datum": 0.92083}}},
      {"data": {"values": [{}]},
       "mark": {"type": "text", "align": "left", "baseline": "middle", "fontSize": 10, "color": "#FFFFFF"},
       "encoding": {
         "x": {"datum": 467.875, "type": "quantitative", "scale": {"domain": [-0.125, 466.875], "nice": false, "zero": false}, "axis": null},
         "y": {"datum": 0.92026, "type": "quantitative", "scale": {"domain": [0.88295, 0.95063], "nice": false, "zero": false}, "axis": null},
         "text": {"value": "0.92026"}}},
      {"data": {"values": [{}]},
       "mark": {"type": "text", "align": "left", "baseline": "middle", "fontSize": 10, "color": "#000000"},
       "encoding": {
         "x": {"datum": 0.625, "type": "quantitative", "scale": {"domain": [-0.125, 466.875], "nice": false, "zero": false}, "axis": null},
         "y": {"datum": 0.95008, "type": "quantitative", "scale": {"domain": [0.88295, 0.95063], "nice": false, "zero": false}, "axis": null},
         "text": {"value": "▼ USDCHF,H4"}}},
      {"data": {"values": [{}]},
       "mark": {"type": "text", "align": "left", "baseline": "middle", "fontSize": 10, "color": "#101010"},
       "encoding": {
         "x": {"datum": -0.125, "type": "quantitative", "scale": {"domain": [-0.125, 466.875], "nice": false, "zero": false}, "axis": null},
         "y": {"datum": 0.94914, "type": "quantitative", "scale": {"domain": [0.88295, 0.95063], "nice": false, "zero": false}, "axis": null},
         "text": {"value": "forex-station.com"}}},
      {"data": {"values": [{}]},
       "mark": {"type": "text", "align": "right", "baseline": "middle", "fontSize": 27, "fontWeight": "bold", "color": "#8A8A8A"},
       "encoding": {
         "x": {"datum": 465.45, "type": "quantitative", "scale": {"domain": [-0.125, 466.875], "nice": false, "zero": false}, "axis": null},
         "y": {"datum": 0.94922, "type": "quantitative", "scale": {"domain": [0.88295, 0.95063], "nice": false, "zero": false}, "axis": null},
         "text": {"value": "2.3"}}},
      {"data": {"values": [{}]},
       "mark": {"type": "text", "align": "right", "baseline": "top", "fontSize": 10, "color": "#8C8C8C"},
       "encoding": {
         "x": {"datum": 447.0, "type": "quantitative", "scale": {"domain": [-0.125, 466.875], "nice": false, "zero": false}, "axis": null},
         "y": {"datum": 0.94781, "type": "quantitative", "scale": {"domain": [0.88295, 0.95063], "nice": false, "zero": false}, "axis": null},
         "text": {"value": "Bar Left"}}},
      {"data": {"values": [{}]},
       "mark": {"type": "text", "align": "right", "baseline": "top", "fontSize": 10, "lineHeight": 11, "color": "#F52020"},
       "encoding": {
         "x": {"datum": 447.0, "type": "quantitative", "scale": {"domain": [-0.125, 466.875], "nice": false, "zero": false}, "axis": null},
         "y": {"datum": 0.94681, "type": "quantitative", "scale": {"domain": [0.88295, 0.95063], "nice": false, "zero": false}, "axis": null},
         "text": {"value": ["* Sydney", "* Tokyo"]}}},
      {"data": {"values": [{}]},
       "mark": {"type": "text", "align": "right", "baseline": "top", "fontSize": 10, "lineHeight": 11, "color": "#8C8C8C"},
       "encoding": {
         "x": {"datum": 447.0, "type": "quantitative", "scale": {"domain": [-0.125, 466.875], "nice": false, "zero": false}, "axis": null},
         "y": {"datum": 0.94481, "type": "quantitative", "scale": {"domain": [0.88295, 0.95063], "nice": false, "zero": false}, "axis": null},
         "text": {"value": ["Berlin", "London", "New York"]}}},
      {"data": {"values": [{}]},
       "mark": {"type": "text", "align": "right", "baseline": "top", "fontSize": 10, "color": "#8C8C8C"},
       "encoding": {
         "x": {"datum": 465.45, "type": "quantitative", "scale": {"domain": [-0.125, 466.875], "nice": false, "zero": false}, "axis": null},
         "y": {"datum": 0.94781, "type": "quantitative", "scale": {"domain": [0.88295, 0.95063], "nice": false, "zero": false}, "axis": null},
         "text": {"value": "[ 03:05:02 ]"}}},
      {"data": {"values": [{}]},
       "mark": {"type": "text", "align": "right", "baseline": "top", "fontSize": 10, "lineHeight": 11, "color": "#F52020"},
       "encoding": {
         "x": {"datum": 465.45, "type": "quantitative", "scale": {"domain": [-0.125, 466.875], "nice": false, "zero": false}, "axis": null},
         "y": {"datum": 0.94681, "type": "quantitative", "scale": {"domain": [0.88295, 0.95063], "nice": false, "zero": false}, "axis": null},
         "text": {"value": ["03:54 PM", "02:54 PM"]}}},
      {"data": {"values": [{}]},
       "mark": {"type": "text", "align": "right", "baseline": "top", "fontSize": 10, "lineHeight": 11, "color": "#8C8C8C"},
       "encoding": {
         "x": {"datum": 465.45, "type": "quantitative", "scale": {"domain": [-0.125, 466.875], "nice": false, "zero": false}, "axis": null},
         "y": {"datum": 0.94481, "type": "quantitative", "scale": {"domain": [0.88295, 0.95063], "nice": false, "zero": false}, "axis": null},
         "text": {"value": ["07:54 AM", "06:54 AM", "01:54 AM", "ATR (20): 41 pips"]}}}
    ]},
    {"data": {"values": [{}]},
     "mark": {"type": "rule", "opacity": 0},
     "encoding": {
       "x": {"datum": 0, "type": "quantitative", "scale": {"domain": [-0.125, 466.875], "nice": false, "zero": false}, "axis": null},
       "y": {"datum": 0.92, "type": "quantitative", "scale": {"domain": [0.88295, 0.95063], "nice": false, "zero": false},
             "axis": {"orient": "right", "title": null, "values": [0.8832, 0.8862, 0.8892, 0.8922, 0.8952, 0.8982, 0.9012, 0.9042, 0.9072, 0.9102, 0.9132, 0.9162, 0.9192, 0.9222, 0.9252, 0.9282, 0.93115, 0.93415, 0.93715, 0.94015, 0.94315, 0.94615, 0.94915], "labelExpr": "format(datum.value, '.5f')", "labelBaseline": "middle", "labelOverlap": false, "labelBound": false, "labelFlush": false}}}}
  ],
  "resolve": {"scale": {"y": "independent"}}
},
{
  "width": 1868, "height": 162,
  "layer": [
    {"data": {"values": [{}]},
     "mark": {"type": "rule", "color": "#7F7F7F", "strokeDash": [3, 3], "strokeWidth": 1},
     "encoding": {
       "x": {"datum": -0.125, "type": "quantitative", "scale": {"domain": [-0.125, 466.875], "nice": false, "zero": false}},
       "x2": {"datum": 466.875},
       "y": {"datum": 0, "type": "quantitative", "scale": {"domain": [-0.0552, 0.0444], "nice": false, "zero": false}}}},
    {"data": {"name": "bars"},
     "mark": {"type": "bar", "size": 2},
     "encoding": {
       "x": {"field": "i", "type": "quantitative", "scale": {"domain": [-0.125, 466.875], "nice": false, "zero": false},
             "axis": {"orient": "bottom", "title": null, "values": [0, 16, 32, 48, 64, 80, 96, 112, 128, 144, 160, 176, 192, 208, 224, 240, 256, 272, 288, 304, 320, 336, 352],
                      "labelExpr": "['25 Jan 2021','27 Jan 16:00','1 Feb 08:00','4 Feb 00:00','8 Feb 16:00','11 Feb 08:00','16 Feb 00:00','18 Feb 16:00','23 Feb 08:00','26 Feb 00:00','2 Mar 16:00','5 Mar 08:00','10 Mar 00:00','12 Mar 16:00','17 Mar 08:00','22 Mar 00:00','24 Mar 16:00','29 Mar 08:00','1 Apr 00:00','5 Apr 16:00','8 Apr 08:00','13 Apr 00:00','15 Apr 16:00'][round(datum.value / 16)]",
                      "labelAlign": "left", "labelBaseline": "top", "labelPadding": 2, "labelOverlap": false, "labelFlush": false, "labelBound": false}},
       "y": {"field": "w", "type": "quantitative", "scale": {"domain": [-0.0552, 0.0444], "nice": false, "zero": false},
             "axis": {"orient": "right", "title": null, "values": [0.0444, 0, -0.0552], "labelOverlap": false, "labelExpr": "datum.value == 0 ? '0.00' : (datum.value > 0 ? '0.0444' : '-0.0552')",
                      "labelBaseline": {"condition": {"test": "datum.value < -0.05", "value": "bottom"}, "value": "top"}}},
       "y2": {"datum": 0},
       "color": {"condition": {"test": "datum.w >= 0", "value": "#008080"}, "value": "#DC143C"}}},
    {"data": {"values": [{}]},
     "mark": {"type": "text", "align": "left", "baseline": "middle", "fontSize": 10, "color": "#000000"},
     "encoding": {
       "x": {"datum": 1.375, "type": "quantitative", "scale": {"domain": [-0.125, 466.875], "nice": false, "zero": false}},
       "y": {"datum": 0.0393, "type": "quantitative", "scale": {"domain": [-0.0552, 0.0444], "nice": false, "zero": false}},
       "text": {"value": "H4  WaddahAttarExplosion of Super smoother (20,40,21) -0.0037 -0.0037"}}}
  ]
}
],
"resolve": {"scale": {"x": "independent", "y": "independent"}}
}
